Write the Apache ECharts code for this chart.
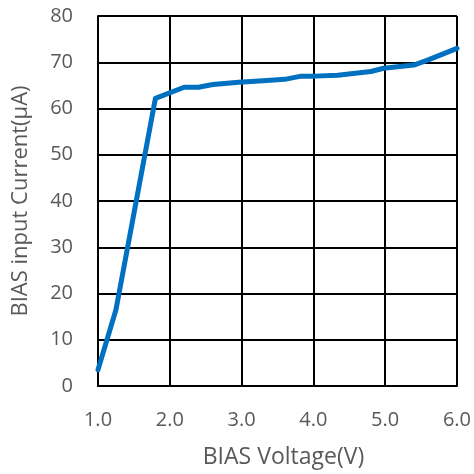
<!DOCTYPE html>
<html>
<head>
<meta charset="utf-8">
<script src="https://cdn.jsdelivr.net/npm/echarts@6/dist/echarts.min.js"></script>
<style>
  html, body { margin: 0; padding: 0; background: #fff; }
  #chart { width: 474px; height: 474px; }
</style>
</head>
<body>
<div id="chart"></div>
<script>
// BIAS pin current vs. applied BIAS voltage
const biasVoltage = [1.0, 1.25, 1.8, 2.2, 2.4, 2.6, 2.96, 3.3, 3.6, 3.83, 4.02, 4.34, 4.8, 4.98, 5.4, 5.6, 6.0];
const biasCurrent = [3.5, 16.5, 62.2, 64.6, 64.6, 65.2, 65.7, 66.0, 66.3, 67.0, 67.0, 67.2, 68.0, 68.7, 69.4, 70.5, 73.0];

const xTitle = 'BIAS Voltage(V)';
const yTitle = 'BIAS input Current(μA)';

const fontFamily = '"Open Sans", "Noto Sans", sans-serif';
const textColor = '#595959';

const chart = echarts.init(document.getElementById('chart'), null, { renderer: 'canvas' });

chart.setOption({
  animation: false,
  grid: { left: 98, right: 14, top: 16, bottom: 88, containLabel: false },
  xAxis: {
    type: 'value',
    min: 1, max: 6, interval: 1,
    name: xTitle,
    nameLocation: 'middle',
    nameGap: 60,
    nameTextStyle: { color: textColor, fontSize: 23, fontFamily, padding: [0, 0, 0, 12] },
    axisLine: { show: true, lineStyle: { color: '#000', width: 2 } },
    axisTick: { show: false },
    axisLabel: {
      color: textColor, fontSize: 20, fontFamily, margin: 24,
      formatter: v => v.toFixed(1)
    },
    splitLine: { show: true, lineStyle: { color: '#000', width: 2 } }
  },
  yAxis: {
    type: 'value',
    min: 0, max: 80, interval: 10,
    name: yTitle,
    nameLocation: 'middle',
    nameGap: 66,
    nameTextStyle: { color: textColor, fontSize: 22, fontFamily },
    axisLine: { show: true, lineStyle: { color: '#000', width: 2 } },
    axisTick: { show: false },
    axisLabel: { color: textColor, fontSize: 20, fontFamily, margin: 25 },
    splitLine: { show: true, lineStyle: { color: '#000', width: 2 } }
  },
  series: [{
    type: 'line',
    data: biasVoltage.map((v, i) => [v, biasCurrent[i]]),
    showSymbol: false,
    symbol: 'none',
    smooth: false,
    lineStyle: { color: '#0070C0', width: 5, join: 'round', cap: 'round' }
  }]
});
</script>
</body>
</html>
